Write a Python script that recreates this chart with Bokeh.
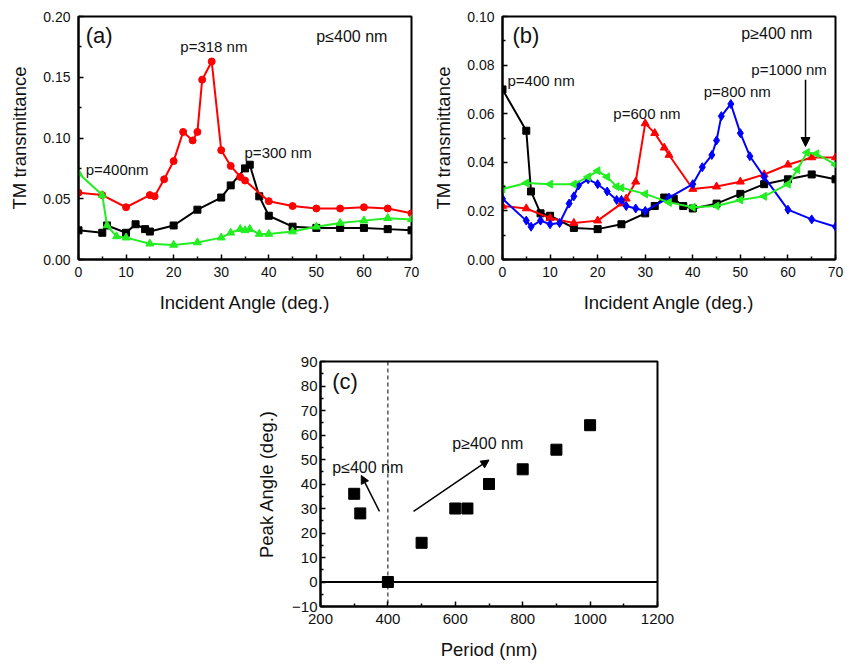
import numpy as np
from bokeh.plotting import figure
from bokeh.layouts import column, row, Spacer
from bokeh.models import Range1d, FixedTicker, NumeralTickFormatter, Span, Arrow, NormalHead
from bokeh.core.properties import value
from bokeh.embed import file_html
from bokeh.resources import INLINE

FONT = "Liberation Sans"

# ---------- Panel (a): p <= 400 nm ----------
a_red_x = [0, 5, 10, 15, 16, 18, 20, 22, 24, 25, 26, 28, 30, 32, 34, 35, 40, 45, 50, 55, 60, 65, 70]
a_red_y = [0.055, 0.053, 0.043, 0.053, 0.052, 0.066, 0.081, 0.105, 0.098, 0.105, 0.148, 0.163, 0.090,
           0.077, 0.068, 0.065, 0.048, 0.044, 0.042, 0.042, 0.043, 0.042, 0.038]
a_black_x = [0, 5, 6, 10, 12, 14, 15, 20, 25, 30, 32, 35, 36, 38, 40, 45, 50, 55, 60, 65, 70]
a_black_y = [0.024, 0.022, 0.028, 0.022, 0.029, 0.025, 0.023, 0.028, 0.041, 0.051, 0.061, 0.075, 0.078,
             0.052, 0.036, 0.027, 0.026, 0.026, 0.026, 0.025, 0.024]
a_green_x = [0, 5, 6, 8, 10, 15, 20, 25, 30, 32, 34, 35, 36, 38, 40, 45, 50, 55, 60, 65, 70]
a_green_y = [0.071, 0.053, 0.028, 0.019, 0.018, 0.013, 0.012, 0.014, 0.018, 0.022, 0.025, 0.024, 0.025,
             0.021, 0.021, 0.023, 0.027, 0.030, 0.032, 0.034, 0.033]

# ---------- Panel (b): p >= 400 nm ----------
b_black_x = [0, 5, 6, 8, 10, 15, 20, 25, 30, 32, 34, 36, 38, 40, 45, 50, 55, 60, 65, 70]
b_black_y = [0.070, 0.053, 0.028, 0.019, 0.018, 0.013, 0.0125, 0.0145, 0.019, 0.022, 0.0255, 0.025,
             0.022, 0.021, 0.023, 0.027, 0.031, 0.033, 0.035, 0.033]
b_red_x = [0, 5, 10, 15, 20, 25, 26, 28, 30, 32, 34, 35, 40, 45, 50, 55, 60, 65, 70]
b_red_y = [0.022, 0.021, 0.017, 0.015, 0.016, 0.023, 0.025, 0.032, 0.056, 0.052, 0.046, 0.043, 0.029,
           0.030, 0.032, 0.035, 0.039, 0.042, 0.042]
b_blue_x = [0, 5, 6, 8, 10, 12, 14, 15, 16, 18, 20, 22, 24, 25, 26, 28, 30, 35, 40, 42, 44, 45, 46, 48,
            50, 52, 55, 60, 65, 70]
b_blue_y = [0.025, 0.016, 0.0135, 0.016, 0.0145, 0.015, 0.023, 0.026, 0.0305, 0.033, 0.031, 0.028,
            0.0245, 0.0245, 0.022, 0.021, 0.020, 0.0255, 0.031, 0.038, 0.043, 0.049, 0.059, 0.064,
            0.052, 0.0425, 0.034, 0.0205, 0.0165, 0.0135]
b_green_x = [0, 5, 10, 15, 18, 20, 22, 24, 25, 30, 35, 40, 45, 50, 55, 60, 62, 64, 66, 70]
b_green_y = [0.029, 0.0315, 0.031, 0.031, 0.034, 0.0365, 0.034, 0.030, 0.0295, 0.027, 0.0235, 0.0215,
             0.022, 0.0245, 0.026, 0.031, 0.037, 0.044, 0.0435, 0.039]

# ---------- Panel (c): peak angle vs period ----------
c_period = [300, 318, 400, 500, 600, 636, 700, 800, 900, 1000]
c_angle = [36, 28, 0, 16, 30, 30, 40, 46, 54, 64]

a_xticks = [0, 10, 20, 30, 40, 50, 60, 70]
a_xminor = [5, 15, 25, 35, 45, 55, 65]
a_yticks = [0.0, 0.05, 0.10, 0.15, 0.20]
b_yticks = [0.0, 0.02, 0.04, 0.06, 0.08, 0.10]
c_xticks = [200, 400, 600, 800, 1000, 1200]
c_yticks = [-10, 0, 10, 20, 30, 40, 50, 60, 70, 80, 90]

RED = "#ff0000"
BLACK = "#000000"
GREEN = "#22ee22"
BLUE = "#0000ff"


def style(p, xlabel, ylabel, tick_size="14px", label_size="18.5px"):
    p.xgrid.grid_line_color = None
    p.ygrid.grid_line_color = None
    p.outline_line_color = "black"
    p.outline_line_width = 2
    p.outline_line_alpha = 1
    p.background_fill_color = "white"
    p.border_fill_color = "white"
    for ax in (p.xaxis[0], p.yaxis[0]):
        ax.axis_line_width = 2
        ax.axis_line_color = "black"
        ax.major_tick_in = 5
        ax.major_tick_out = 0
        ax.minor_tick_in = 3
        ax.minor_tick_out = 0
        ax.major_tick_line_width = 1.5
        ax.minor_tick_line_width = 1.5
        ax.major_label_text_font = FONT
        ax.major_label_text_font_size = tick_size
        ax.major_label_text_color = "#111111"
        ax.axis_label_text_font = FONT
        ax.axis_label_text_font_size = label_size
        ax.axis_label_text_font_style = "normal"
        ax.axis_label_text_color = "#111111"
    p.xaxis[0].axis_label = xlabel
    p.yaxis[0].axis_label = ylabel


def series(p, xs, ys, color, marker, size=7, angle=0.0):
    p.line(xs, ys, line_color=color, line_width=2)
    p.scatter(xs, ys, marker=marker, size=size, fill_color=color, line_color=color, angle=angle)


def label(p, x, y, txt, size="15px"):
    p.text(x=[x], y=[y], text=[txt], text_font=value(FONT), text_font_size=value(size),
           text_baseline="middle", text_align="left", text_color="#111111")


# ---- (a)
pa = figure(frame_width=333, frame_height=243, min_border_left=78, min_border_right=9,
            min_border_top=16, min_border_bottom=49, x_range=Range1d(0, 70), y_range=Range1d(0, 0.2),
            output_backend="svg", toolbar_location=None)
style(pa, "Incident Angle (deg.)", "TM transmittance")
pa.xaxis.ticker = FixedTicker(ticks=a_xticks, minor_ticks=a_xminor)
pa.yaxis.ticker = FixedTicker(ticks=a_yticks, minor_ticks=[0.025, 0.075, 0.125, 0.175])
pa.yaxis.formatter = NumeralTickFormatter(format="0.00")
pa.yaxis.major_label_standoff = 8
pa.xaxis.major_label_standoff = 7
pa.yaxis.axis_label_standoff = 10
pa.xaxis.axis_label_standoff = 12
series(pa, a_black_x, a_black_y, BLACK, "square", 7)
series(pa, a_red_x, a_red_y, RED, "circle", 7)
series(pa, a_green_x, a_green_y, GREEN, "triangle", 8)
label(pa, 1.5, 0.184, "(a)", "22px")
label(pa, 50.0, 0.1835, "p\u2264400 nm", "16px")
label(pa, 21.4, 0.175, "p=318 nm")
label(pa, 34.9, 0.088, "p=300 nm")
label(pa, 1.5, 0.074, "p=400nm")

# ---- (b)
pb = figure(frame_width=333, frame_height=243, min_border_left=82, min_border_right=10,
            min_border_top=16, min_border_bottom=49, x_range=Range1d(0, 70), y_range=Range1d(0, 0.1),
            output_backend="svg", toolbar_location=None)
style(pb, "Incident Angle (deg.)", "TM transmittance")
pb.xaxis.ticker = FixedTicker(ticks=a_xticks, minor_ticks=a_xminor)
pb.yaxis.ticker = FixedTicker(ticks=b_yticks, minor_ticks=[0.01, 0.03, 0.05, 0.07, 0.09])
pb.yaxis.formatter = NumeralTickFormatter(format="0.00")
pb.yaxis.major_label_standoff = 8
pb.xaxis.major_label_standoff = 7
pb.yaxis.axis_label_standoff = 10
pb.xaxis.axis_label_standoff = 12
series(pb, b_black_x, b_black_y, BLACK, "square", 7)
series(pb, b_red_x, b_red_y, RED, "triangle", 8)
series(pb, b_blue_x, b_blue_y, BLUE, "diamond", 9)
series(pb, b_green_x, b_green_y, GREEN, "triangle", 8, angle=np.pi / 2)
label(pb, 2.1, 0.092, "(b)", "22px")
label(pb, 50.2, 0.093, "p\u2265400 nm", "16px")
label(pb, 1.05, 0.0737, "p=400 nm")
label(pb, 23.3, 0.060, "p=600 nm")
label(pb, 42.3, 0.069, "p=800 nm")
label(pb, 52.3, 0.078, "p=1000 nm")
pb.add_layout(Arrow(end=NormalHead(size=9, fill_color="black", line_color="black"),
                    x_start=63.7, y_start=0.074, x_end=63.7, y_end=0.0465,
                    line_color="black", line_width=1.5))

# ---- (c)
pc = figure(frame_width=337, frame_height=245, min_border_left=90, min_border_right=20,
            min_border_top=46, min_border_bottom=44, x_range=Range1d(200, 1200), y_range=Range1d(-10, 90),
            output_backend="svg", toolbar_location=None)
style(pc, "Period (nm)", "Peak Angle (deg.)", tick_size="15px", label_size="18.5px")
pc.xaxis.ticker = FixedTicker(ticks=c_xticks, minor_ticks=[300, 500, 700, 900, 1100])
pc.yaxis.ticker = FixedTicker(ticks=c_yticks, minor_ticks=[-5, 5, 15, 25, 35, 45, 55, 65, 75, 85])
pc.yaxis.major_label_standoff = 3
pc.xaxis.major_label_standoff = 7
pc.yaxis.axis_label_standoff = 12
pc.xaxis.axis_label_standoff = 12
pc.add_layout(Span(location=0, dimension="width", line_color="black", line_width=2))
pc.add_layout(Span(location=400, dimension="height", line_color="black", line_width=1, line_dash="4 3"))
pc.scatter(c_period, c_angle, marker="square", size=11, fill_color="black", line_color="black")
label(pc, 235, 82, "(c)", "22px")
label(pc, 235, 46.8, "p\u2264400 nm", "16px")
label(pc, 591, 56.7, "p\u2265400 nm", "16px")
pc.add_layout(Arrow(end=NormalHead(size=8, fill_color="black", line_color="black"),
                    x_start=375, y_start=28.8, x_end=321, y_end=43.5, line_color="black", line_width=1.5))
pc.add_layout(Arrow(end=NormalHead(size=8, fill_color="black", line_color="black"),
                    x_start=476, y_start=28.8, x_end=700, y_end=49.8, line_color="black", line_width=1.5))

layout = column(row(pa, pb), row(Spacer(width=230, height=10), pc))
open("out.html", "w").write(file_html(layout, INLINE))
